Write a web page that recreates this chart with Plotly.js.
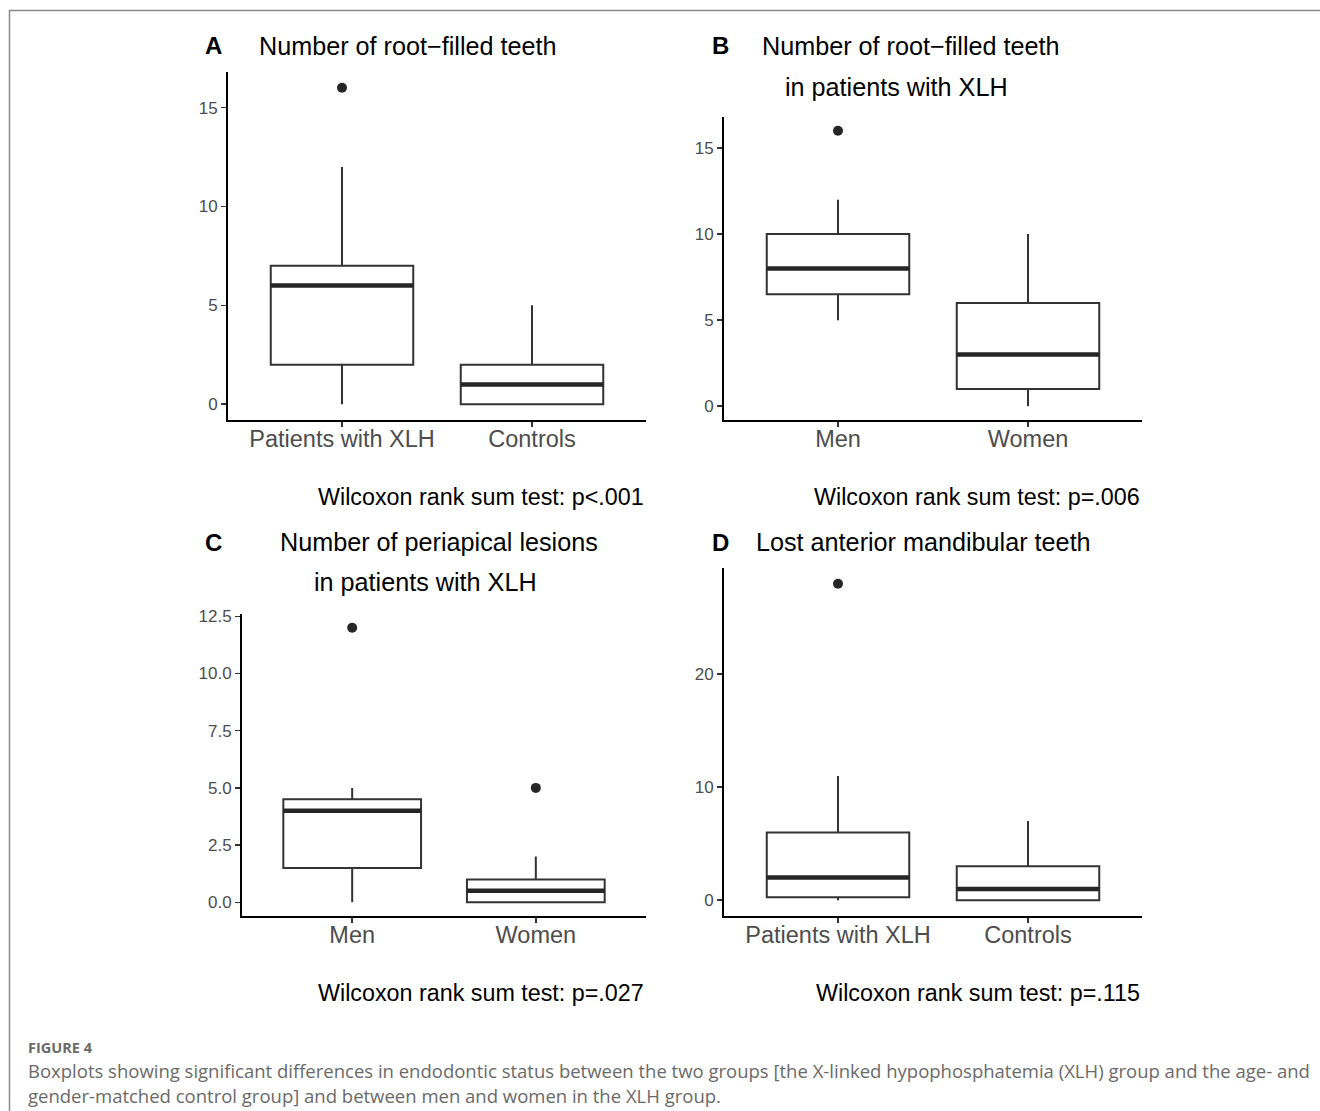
<!DOCTYPE html>
<html>
<head>
<meta charset="utf-8">
<script src="https://cdn.plot.ly/plotly-3.0.1.min.js"></script>
<style>html,body{margin:0;padding:0;background:#fff;}#chart{width:1320px;height:1111px;}</style>
</head>
<body>
<div id="chart"></div>
<script>
// ---------- DATA ----------
const catsA = ['Patients with XLH', 'Controls'];
const lowA  = [0, 0];
const q1A   = [2, 0];
const medA  = [6, 1];
const q3A   = [7, 2];
const highA = [12, 5];
const outA  = [[16], []];

const catsB = ['Men', 'Women'];
const lowB  = [5, 0];
const q1B   = [6.5, 1];
const medB  = [8, 3];
const q3B   = [10, 6];
const highB = [12, 10];
const outB  = [[16], []];

const catsC = ['Men', 'Women'];
const lowC  = [0, 0];
const q1C   = [1.5, 0];
const medC  = [4, 0.5];
const q3C   = [4.5, 1];
const highC = [5, 2];
const outC  = [[12], [5]];

const catsD = ['Patients with XLH', 'Controls'];
const lowD  = [0, 0];
const q1D   = [0.25, 0];
const medD  = [2, 1];
const q3D   = [6, 3];
const highD = [11, 7];
const outD  = [[28], []];

const titleA = ['Number of root\u2212filled teeth'];
const titleB = ['Number of root\u2212filled teeth', 'in patients with XLH'];
const titleC = ['Number of periapical lesions', 'in patients with XLH'];
const titleD = ['Lost anterior mandibular teeth'];
const testA = 'Wilcoxon rank sum test: p<.001';
const testB = 'Wilcoxon rank sum test: p=.006';
const testC = 'Wilcoxon rank sum test: p=.027';
const testD = 'Wilcoxon rank sum test: p=.115';
const captionHead = 'FIGURE 4';
const captionLines = [
  'Boxplots showing significant differences in endodontic status between the two groups [the X-linked hypophosphatemia (XLH) group and the age- and',
  'gender-matched control group] and between men and women in the XLH group.'
];

// ---------- LAYOUT HELPERS ----------
const W = 1320, H = 1111;
const px = x => x / W;
const py = y => 1 - y / H;
const BOXW = 0.75;
const FONT = 'Liberation Sans, Arial, Helvetica, sans-serif';
const BOXCOL = '#333333';

const panels = [
  {id: '', cats: catsA, low: lowA, q1: q1A, med: medA, q3: q3A, high: highA, out: outA,
   xd: [228, 646], yd: [72, 420], dtick: 5, fmt: 'd'},
  {id: '2', cats: catsB, low: lowB, q1: q1B, med: medB, q3: q3B, high: highB, out: outB,
   xd: [724, 1142], yd: [117, 420], dtick: 5, fmt: 'd'},
  {id: '3', cats: catsC, low: lowC, q1: q1C, med: medC, q3: q3C, high: highC, out: outC,
   xd: [242, 646], yd: [614, 916], dtick: 2.5, fmt: '.1f'},
  {id: '4', cats: catsD, low: lowD, q1: q1D, med: medD, q3: q3D, high: highD, out: outD,
   xd: [724, 1142], yd: [568, 916], dtick: 10, fmt: 'd'}
];

const traces = [];
const layout = {
  width: W, height: H,
  margin: {l: 0, r: 0, t: 0, b: 0},
  paper_bgcolor: '#ffffff', plot_bgcolor: '#ffffff',
  showlegend: false,
  annotations: [],
  shapes: [
    {type: 'line', xref: 'paper', yref: 'paper', x0: px(9), x1: 1, y0: py(10.5), y1: py(10.5),
     line: {color: '#8a8a8a', width: 1.5}},
    {type: 'line', xref: 'paper', yref: 'paper', x0: px(9.5), x1: px(9.5), y0: py(10), y1: 0,
     line: {color: '#8a8a8a', width: 1.5}}
  ]
};

panels.forEach(p => {
  const xa = 'x' + p.id, ya = 'y' + p.id;
  const pos = p.cats.map((c, i) => i + 1);
  traces.push({
    type: 'box', xaxis: xa, yaxis: ya,
    x: pos, q1: p.q1, median: p.med, q3: p.q3, lowerfence: p.low, upperfence: p.high,
    width: BOXW, whiskerwidth: 0, boxpoints: false,
    fillcolor: '#ffffff', line: {color: BOXCOL, width: 2},
    hoverinfo: 'skip'
  });
  // thicker median segments (ggplot style)
  const mx = [], my = [];
  pos.forEach((x, i) => { mx.push(x - BOXW / 2, x + BOXW / 2, null); my.push(p.med[i], p.med[i], null); });
  traces.push({type: 'scatter', mode: 'lines', xaxis: xa, yaxis: ya, x: mx, y: my,
    line: {color: '#262626', width: 4.5}, hoverinfo: 'skip'});
  // outliers
  const ox = [], oy = [];
  p.out.forEach((arr, i) => arr.forEach(v => { ox.push(pos[i]); oy.push(v); }));
  traces.push({type: 'scatter', mode: 'markers', xaxis: xa, yaxis: ya, x: ox, y: oy,
    marker: {color: '#262626', size: 10}, hoverinfo: 'skip'});

  const all = p.low.concat(p.high, ...p.out);
  const lo = Math.min(...all), hi = Math.max(...all), pad = 0.05 * (hi - lo);

  layout['xaxis' + p.id] = {
    domain: [px(p.xd[0]), px(p.xd[1])], anchor: ya,
    range: [0.4, pos.length + 0.6], tickmode: 'array', tickvals: pos, ticktext: p.cats,
    showline: true, linecolor: '#000', linewidth: 2, mirror: false,
    ticks: 'outside', ticklen: 5, tickwidth: 1.5, tickcolor: '#333',
    ticklabelstandoff: -8,
    tickfont: {family: FONT, size: 23.5, color: '#4d4d4d'},
    showgrid: false, zeroline: false, fixedrange: true
  };
  layout['yaxis' + p.id] = {
    domain: [py(p.yd[1]), py(p.yd[0])], anchor: xa,
    range: [lo - pad, hi + pad], tickmode: 'linear', tick0: 0, dtick: p.dtick, tickformat: p.fmt,
    showline: true, linecolor: '#000', linewidth: 2,
    ticks: 'outside', ticklen: 5, tickwidth: 1.5, tickcolor: '#333',
    tickfont: {family: FONT, size: 17, color: '#4d4d4d'},
    showgrid: false, zeroline: false, fixedrange: true
  };
});

function ann(text, x, y, xanchor, size, opts) {
  layout.annotations.push(Object.assign({
    text: text, xref: 'paper', yref: 'paper', x: px(x), y: py(y),
    xanchor: xanchor, yanchor: 'middle', showarrow: false,
    font: {family: FONT, size: size, color: '#000'}
  }, opts || {}));
}

// panel letters
ann('<b>A</b>', 213, 46, 'center', 24);
ann('<b>B</b>', 720, 46, 'center', 24);
ann('<b>C</b>', 213, 542, 'center', 24);
ann('<b>D</b>', 720, 542, 'center', 24);
// titles
ann(titleA[0], 257, 46, 'left', 25.2);
ann(titleB[0], 760, 46, 'left', 25.2);
ann(titleB[1], 783, 87, 'left', 25.2);
ann(titleC[0], 278, 542, 'left', 25.2);
ann(titleC[1], 312, 582, 'left', 25.2);
ann(titleD[0], 754, 542, 'left', 25.2);
// test results
ann(testA, 646, 497, 'right', 23.3);
ann(testB, 1142, 497, 'right', 23.3);
ann(testC, 646, 993, 'right', 23.3);
ann(testD, 1142, 993, 'right', 23.3);
// caption
const CAPFONT = 'Open Sans, Lato, sans-serif';
ann('<b>' + captionHead + '</b>', 26, 1047, 'left', 14.5, {font: {family: CAPFONT, size: 14.5, color: '#6a6a6a'}});
ann(captionLines[0], 26, 1070, 'left', 18.5, {font: {family: CAPFONT, size: 18.5, color: '#6a6a6a'}});
ann(captionLines[1], 26, 1095, 'left', 18.5, {font: {family: CAPFONT, size: 18.5, color: '#6a6a6a'}});

Plotly.newPlot('chart', traces, layout, {displayModeBar: false, staticPlot: true});
</script>
</body>
</html>
